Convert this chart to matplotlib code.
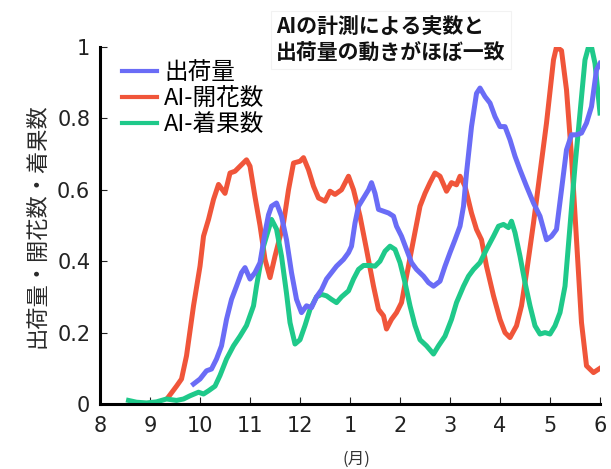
import matplotlib
matplotlib.use("Agg")
import matplotlib.pyplot as plt

plt.rcParams["font.family"] = ["Noto Sans CJK JP", "DejaVu Sans"]

# x は 8月=8 から始まる連続した月（1月=13 ... 6月=18）
MONTH_TICKS = [8, 9, 10, 11, 12, 13, 14, 15, 16, 17, 18]
MONTH_LABELS = ["8", "9", "10", "11", "12", "1", "2", "3", "4", "5", "6"]

ship_x = [9.87, 10.0, 10.13, 10.23, 10.33, 10.43, 10.53, 10.63, 10.73, 10.83, 10.9, 11.0,
          11.1, 11.2, 11.3, 11.37, 11.43, 11.53, 11.63, 11.73, 11.83, 11.93, 12.03, 12.13,
          12.23, 12.33, 12.43, 12.53, 12.63, 12.73, 12.87, 12.97, 13.03, 13.1, 13.17, 13.27,
          13.37, 13.43, 13.5, 13.57, 13.67, 13.77, 13.87, 13.93, 14.03, 14.13, 14.23, 14.33,
          14.47, 14.57, 14.67, 14.8, 14.9, 15.0, 15.1, 15.2, 15.27, 15.33, 15.43, 15.53,
          15.6, 15.7, 15.8, 15.9, 16.0, 16.1, 16.2, 16.3, 16.4, 16.53, 16.67, 16.8, 16.93,
          17.03, 17.13, 17.23, 17.33, 17.43, 17.53, 17.63, 17.73, 17.83, 17.93, 18.0]
ship_y = [0.056, 0.07, 0.093, 0.098, 0.126, 0.163, 0.237, 0.293, 0.33, 0.368, 0.382, 0.35,
          0.368, 0.396, 0.48, 0.53, 0.554, 0.563, 0.526, 0.46, 0.368, 0.293, 0.256, 0.275,
          0.27, 0.3, 0.32, 0.35, 0.368, 0.386, 0.405, 0.424, 0.442, 0.507, 0.554, 0.577,
          0.6, 0.62, 0.59, 0.545, 0.54, 0.535, 0.526, 0.498, 0.47, 0.433, 0.396, 0.377,
          0.358, 0.34, 0.33, 0.344, 0.386, 0.424, 0.46, 0.498, 0.554, 0.647, 0.777, 0.87,
          0.885, 0.861, 0.843, 0.805, 0.777, 0.777, 0.74, 0.694, 0.656, 0.61, 0.563, 0.526, 0.46,
          0.47, 0.489, 0.6, 0.712, 0.754, 0.754, 0.759, 0.787, 0.833, 0.936, 0.954]

flower_x = [9.37, 9.53, 9.63, 9.73, 9.87, 10.0, 10.07, 10.17, 10.27, 10.37, 10.5, 10.6, 10.7,
            10.8, 10.93, 11.0, 11.1, 11.2, 11.3, 11.4, 11.5, 11.67, 11.77, 11.87, 12.0, 12.07,
            12.17, 12.27, 12.37, 12.5, 12.6, 12.7, 12.83, 12.97, 13.07, 13.2, 13.33, 13.47,
            13.57, 13.67, 13.73, 13.83, 13.93, 14.03, 14.13, 14.27, 14.4, 14.5, 14.6, 14.7,
            14.8, 14.93, 15.03, 15.13, 15.2, 15.3, 15.43, 15.53, 15.63, 15.73, 15.87, 16.0,
            16.1, 16.2, 16.33, 16.43, 16.53, 16.67, 16.8, 16.93, 17.07, 17.13, 17.23, 17.33,
            17.43, 17.53, 17.63, 17.73, 17.87, 18.0]
flower_y = [0.02, 0.05, 0.07, 0.135, 0.275, 0.386, 0.47, 0.517, 0.573, 0.615, 0.59, 0.647, 0.652,
            0.666, 0.684, 0.666, 0.58, 0.5, 0.405, 0.354, 0.414, 0.507, 0.6, 0.675, 0.68, 0.69,
            0.656, 0.61, 0.577, 0.568, 0.596, 0.587, 0.6, 0.638, 0.6, 0.526, 0.433, 0.33,
            0.265, 0.247, 0.21, 0.237, 0.256, 0.284, 0.358, 0.46, 0.554, 0.59, 0.62, 0.647,
            0.638, 0.596, 0.62, 0.614, 0.638, 0.61, 0.535, 0.489, 0.46, 0.386, 0.303, 0.237,
            0.2, 0.186, 0.219, 0.275, 0.368, 0.507, 0.647, 0.787, 0.964, 1.0, 0.99, 0.88,
            0.694, 0.46, 0.228, 0.107, 0.088, 0.1]

fruit_x = [8.57, 8.73, 8.93, 9.13, 9.33, 9.53, 9.67, 9.8, 9.97, 10.07, 10.17, 10.3, 10.4, 10.53,
           10.67, 10.8, 10.93, 11.07, 11.13, 11.2, 11.27, 11.33, 11.43, 11.53, 11.63, 11.73,
           11.8, 11.9, 12.0, 12.1, 12.2, 12.33, 12.43, 12.53, 12.63, 12.73, 12.83, 12.97,
           13.07, 13.17, 13.27, 13.4, 13.5, 13.6, 13.7, 13.8, 13.9, 14.0, 14.1, 14.2, 14.3,
           14.4, 14.53, 14.67, 14.77, 14.9, 15.03, 15.13, 15.27, 15.37, 15.47, 15.6, 15.73,
           15.87, 15.97, 16.07, 16.17, 16.23, 16.3, 16.4, 16.5, 16.6, 16.7, 16.8, 16.9, 17.0,
           17.1, 17.2, 17.3, 17.4, 17.5, 17.6, 17.7, 17.77, 17.83, 17.9, 18.0]
fruit_y = [0.01, 0.005, 0.003, 0.006, 0.014, 0.01, 0.014, 0.023, 0.033, 0.028, 0.037, 0.05, 0.08,
           0.126, 0.163, 0.19, 0.22, 0.275, 0.33, 0.386, 0.442, 0.47, 0.517, 0.49, 0.414, 0.31,
           0.228, 0.168, 0.18, 0.22, 0.265, 0.3, 0.307, 0.303, 0.293, 0.284, 0.3, 0.317,
           0.35, 0.377, 0.388, 0.388, 0.386, 0.4, 0.428, 0.442, 0.433, 0.396, 0.34, 0.275, 0.22,
           0.18, 0.163, 0.14, 0.163, 0.19, 0.237, 0.284, 0.33, 0.358, 0.377, 0.396, 0.433,
           0.47, 0.498, 0.503, 0.494, 0.512, 0.48, 0.414, 0.34, 0.275, 0.219, 0.196, 0.2, 0.196,
           0.219, 0.256, 0.33, 0.498, 0.666, 0.815, 0.964, 1.0, 1.0, 0.954, 0.815]

Y_TICKS = [0, 0.2, 0.4, 0.6, 0.8, 1]
Y_LABELS = ["0", "0.2", "0.4", "0.6", "0.8", "1"]

BLUE = "#6a6cf6"
RED = "#f0553a"
GREEN = "#1fc98a"

fig = plt.figure(figsize=(6.11, 4.69), dpi=100)
ax = fig.add_axes([0.1637, 0.1386, 0.8183, 0.7612])

lw = 3.6
ax.plot(ship_x, ship_y, color=BLUE, lw=lw, label="出荷量", zorder=3)
ax.plot(flower_x, flower_y, color=RED, lw=lw, label="AI-開花数", zorder=2)
ax.plot(fruit_x, fruit_y, color=GREEN, lw=lw, label="AI-着果数", zorder=2)

ax.set_xlim(8, 18)
ax.set_ylim(0, 1)
ax.set_xticks(MONTH_TICKS)
ax.set_xticklabels(MONTH_LABELS)
ax.set_yticks(Y_TICKS)
ax.set_yticklabels(Y_LABELS)
ax.tick_params(direction="in", length=5, width=0.8, labelsize=15, colors="#222222")
ax.tick_params(axis="x", pad=9)
ax.tick_params(axis="y", pad=7)
for lab in ax.get_xticklabels() + ax.get_yticklabels():
    lab.set_family("DejaVu Sans")

for side in ["top", "right"]:
    ax.spines[side].set_visible(False)
for side in ["left", "bottom"]:
    ax.spines[side].set_linewidth(2.2)
    ax.spines[side].set_color("black")

ax.set_ylabel("出荷量・開花数・着果数", fontsize=16, labelpad=6, color="#2a2a2a")
fig.text(0.584, 0.02, "(月)", fontsize=12, ha="center", va="center", color="#333333")

leg = ax.legend(loc="upper left", bbox_to_anchor=(0.015, 1.0), frameon=False, fontsize=17,
                handlelength=1.5, handletextpad=0.3, labelspacing=0.12, borderaxespad=0.2)
for h in leg.get_lines():
    h.set_linewidth(3.0)

fig.text(0.452, 0.915, "AIの計測による実数と\n出荷量の動きがほぼ一致", fontsize=15,
         fontweight="bold", ha="left", va="center", linespacing=1.3, color="#111111",
         bbox=dict(boxstyle="square,pad=0.25", facecolor="white", edgecolor="#f2f2f2", lw=0.8))

fig.savefig("out.png", dpi=100)
